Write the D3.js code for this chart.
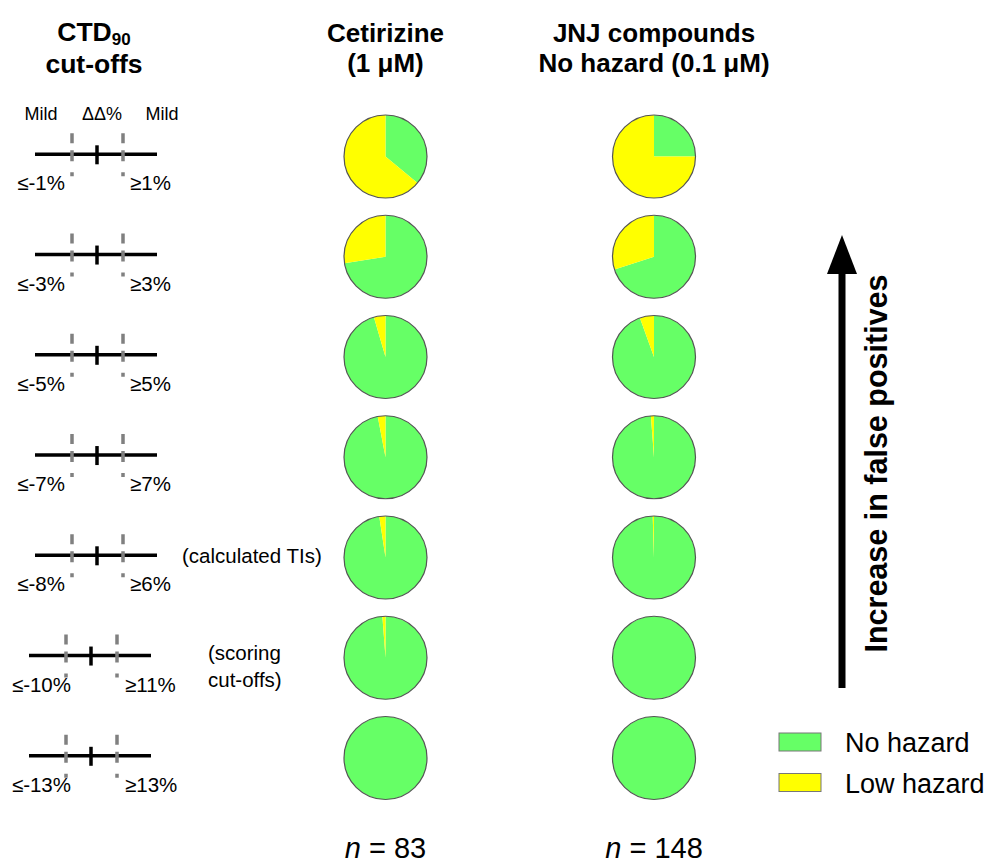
<!DOCTYPE html>
<html>
<head>
<meta charset="utf-8">
<script src="https://cdn.jsdelivr.net/npm/d3@7"></script>
<style>
  body { margin: 0; background: #fff; }
  svg { font-family: "Liberation Sans", Arial, sans-serif; }
</style>
</head>
<body>
<svg id="chart" width="992" height="867"></svg>
<script>
// cut-off labels for each row (top to bottom)
const cutLow = ["≤-1%", "≤-3%", "≤-5%", "≤-7%", "≤-8%", "≤-10%", "≤-13%"];
const cutHigh = ["≥1%", "≥3%", "≥5%", "≥7%", "≥6%", "≥11%", "≥13%"];
// fraction classed "Low hazard" per row
const cetirizineLow = [0.64, 0.275, 0.045, 0.03, 0.024, 0.012, 0];
const jnjLow = [0.75, 0.30, 0.055, 0.012, 0.005, 0, 0];
const columns = ["Cetirizine", "JNJ"];
const columnTitles = [["Cetirizine", "(1 μM)"], ["JNJ compounds", "No hazard (0.1 μM)"]];
const nValues = [83, 148];
const categories = ["No hazard", "Low hazard"];
const rowNotes = [null, null, null, null, ["(calculated TIs)"], ["(scoring", "cut-offs)"], null];

const color = d3.scaleOrdinal().domain(categories).range(["#66ff66", "#ffff00"]);

const svg = d3.select("#chart");

const rowIdx = d3.range(cutLow.length);
const y = d3.scaleLinear().domain([0, cutLow.length - 1]).range([156.5, 758]);
const x = d3.scaleOrdinal().domain(columns).range([385.5, 654]);
const radius = 41.5;

// ---- titles
const title = svg.append("g").attr("font-weight", "bold").attr("text-anchor", "middle").attr("font-size", 26.5);
const ctd = title.append("text").attr("x", 94).attr("y", 41);
ctd.append("tspan").text("CTD");
ctd.append("tspan").attr("font-size", 17).attr("dy", 4).text("90");
title.append("text").attr("x", 94).attr("y", 73).text("cut-offs");

columns.forEach((c, i) => {
  columnTitles[i].forEach((t, j) => {
    title.append("text").attr("x", x(c)).attr("y", 42 + j * 30)
      .attr("font-size", 26).text(t);
  });
});

// ---- left cut-off diagrams
const diag = svg.append("g");
[["Mild", 41], ["ΔΔ%", 102], ["Mild", 162]].forEach(([t, tx]) => {
  diag.append("text").attr("x", tx).attr("y", 120).attr("font-size", 18)
    .attr("text-anchor", "middle").text(t);
});

rowIdx.forEach((i) => {
  const ly = y(i) - 2.2;
  const shift = i >= 5 ? -6 : 0;
  const g = diag.append("g").attr("transform", `translate(${shift},${ly})`);
  g.append("line").attr("x1", 35).attr("x2", 157).attr("stroke", "#000").attr("stroke-width", 3.5);
  [72, 123].forEach((dx) => {
    g.append("line")
      .attr("x1", dx).attr("x2", dx).attr("y1", -21).attr("y2", 22)
      .attr("stroke", "#808080").attr("stroke-width", 3.5)
      .attr("stroke-dasharray", "10,7,11,11,4");
  });
  g.append("line").attr("x1", 97).attr("x2", 97).attr("y1", -9).attr("y2", 10)
    .attr("stroke", "#000").attr("stroke-width", 3.5);
  g.append("text").attr("x", i >= 5 ? 77 : 65).attr("y", 36).attr("font-size", 20.5)
    .attr("text-anchor", "end").text(cutLow[i]);
  g.append("text").attr("x", i >= 5 ? 131 : 130).attr("y", 36).attr("font-size", 20.5).text(cutHigh[i]);

  if (rowNotes[i]) {
    rowNotes[i].forEach((t, j) => {
      svg.append("text")
        .attr("x", i === 4 ? 182 : 208)
        .attr("y", (i === 4 ? ly + 8 : ly + 4) + j * 27)
        .attr("font-size", 20.5).text(t);
    });
  }
});

// ---- pies
const pie = d3.pie().sort(null).value((d) => d.value);
const arc = d3.arc().innerRadius(0).outerRadius(radius);
const series = [cetirizineLow, jnjLow];

columns.forEach((c, ci) => {
  rowIdx.forEach((i) => {
    const low = series[ci][i];
    const data = [
      { type: "No hazard", value: 1 - low },
      { type: "Low hazard", value: low },
    ];
    const g = svg.append("g").attr("transform", `translate(${x(c)},${y(i)})`);
    g.selectAll("path")
      .data(pie(data))
      .enter()
      .append("path")
      .attr("d", arc)
      .attr("fill", (d) => color(d.data.type));
    g.append("circle").attr("r", radius).attr("fill", "none")
      .attr("stroke", "#555").attr("stroke-width", 1.2);
  });
  const n = svg.append("text").attr("x", x(c)).attr("y", 858)
    .attr("font-size", 29).attr("text-anchor", "middle");
  n.append("tspan").attr("font-style", "italic").text("n");
  n.append("tspan").text(" = " + nValues[ci]);
});

// ---- arrow
svg.append("line").attr("x1", 842).attr("x2", 842).attr("y1", 688).attr("y2", 270)
  .attr("stroke", "#000").attr("stroke-width", 7);
svg.append("path").attr("d", "M842,235 L857,274 L827,274 Z").attr("fill", "#000");
svg.append("text")
  .attr("transform", "translate(887,463.5) rotate(-90)")
  .attr("text-anchor", "middle").attr("font-weight", "bold").attr("font-size", 30.5)
  .text("Increase in false positives");

// ---- legend
const legend = svg.append("g").attr("transform", "translate(779,733)");
categories.forEach((cat, i) => {
  legend.append("rect").attr("x", 0).attr("y", i * 40.5).attr("width", 42).attr("height", 18)
    .attr("fill", color(cat)).attr("stroke", "#777").attr("stroke-width", 1);
  legend.append("text").attr("x", 66).attr("y", i * 40.5 + 19).attr("font-size", 27).text(cat);
});
</script>
</body>
</html>
